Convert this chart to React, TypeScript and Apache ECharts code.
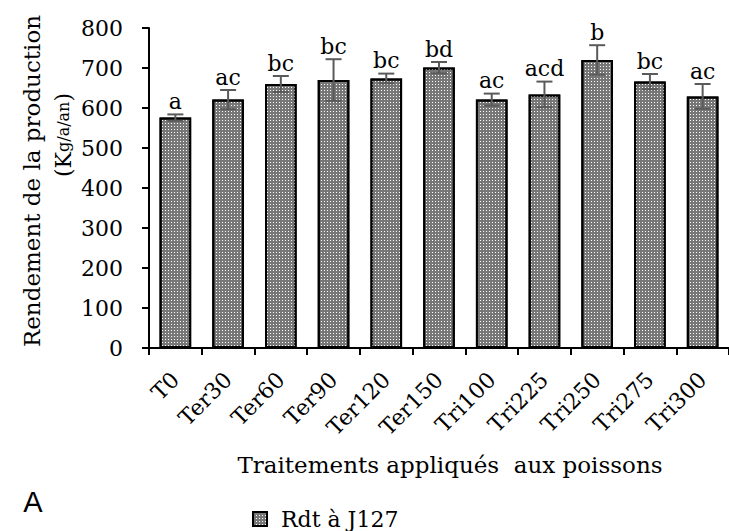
import React, { useEffect, useRef } from "react";
import * as echarts from "echarts";

const categories = ["T0", "Ter30", "Ter60", "Ter90", "Ter120", "Ter150", "Tri100", "Tri225", "Tri250", "Tri275", "Tri300"];
const means = [576, 621, 660, 670, 674, 701, 621, 634, 720, 666, 629];
const errors = [8, 24, 20, 52, 12, 14, 15, 32, 37, 19, 31];
const letters = ["a", "ac", "bc", "bc", "bc", "bd", "ac", "acd", "b", "bc", "ac"];
const seriesName = "Rdt à J127";
const yAxisTitle = "Rendement de la production";
const xAxisTitle = "Traitements appliqués  aux poissons";
const panelLabel = "A";

const SERIF = "'DejaVu Serif', 'Liberation Serif', serif";

export default function App() {
  const ref = useRef<HTMLDivElement>(null);
  useEffect(() => {
    if (!ref.current) return;
    const chart = echarts.init(ref.current, null, { renderer: "svg" });
    const option: any = {
      animation: false,
      backgroundColor: "#ffffff",
      grid: { left: 149, top: 28, width: 588, height: 320 },
      legend: {
        data: [{ name: seriesName, icon: "rect" }],
        left: 247,
        top: 503,
        itemWidth: 14,
        itemHeight: 14,
        textStyle: { fontFamily: SERIF, fontSize: 22, color: "#000", padding: [0, 0, 0, 9] },
      },
      xAxis: {
        type: "category",
        data: categories,
        boundaryGap: true,
        axisLine: { lineStyle: { color: "#000", width: 2 } },
        axisTick: { show: true, inside: false, length: 7, lineStyle: { color: "#000", width: 2 } },
        axisLabel: { rotate: 45, margin: 28, fontFamily: SERIF, fontSize: 22, color: "#000", interval: 0 },
      },
      yAxis: {
        type: "value",
        min: 0,
        max: 800,
        interval: 100,
        splitLine: { show: false },
        axisLine: { show: true, lineStyle: { color: "#000", width: 2 } },
        axisTick: { show: true, inside: false, length: 7, lineStyle: { color: "#000", width: 2 } },
        axisLabel: { margin: 26, fontFamily: SERIF, fontSize: 22, color: "#000" },
      },
      series: [
        {
          name: seriesName,
          type: "bar",
          data: means,
          barCategoryGap: "40%",
          itemStyle: {
            color: "#777777",
            borderColor: "#000",
            borderWidth: 2,
            decal: {
              symbol: "rect",
              symbolSize: 1,
              color: "#ffffff",
              dashArrayX: [1, 2],
              dashArrayY: [1, 2],
              rotation: 0,
            },
          },
        },
        {
          name: "err",
          type: "custom",
          z: 5,
          data: means.map((m, i) => [i, m, errors[i]]),
          encode: { x: 0, y: 1 },
          renderItem: (params: any, api: any) => {
            const i = params.dataIndex;
            const x = api.value(0);
            const m = api.value(1);
            const e = api.value(2);
            const t = api.coord([x, m + e]);
            const b = api.coord([x, m - e]);
            const hw = 8;
            const ls = { stroke: "#5a5a5a", lineWidth: 2 };
            return {
              type: "group",
              children: [
                { type: "line", shape: { x1: t[0], y1: t[1], x2: b[0], y2: b[1] }, style: ls },
                { type: "line", shape: { x1: t[0] - hw, y1: t[1], x2: t[0] + hw, y2: t[1] }, style: ls },
                { type: "line", shape: { x1: b[0] - hw, y1: b[1], x2: b[0] + hw, y2: b[1] }, style: ls },
                {
                  type: "text",
                  x: t[0],
                  y: t[1] - 2,
                  style: {
                    text: letters[i],
                    fontFamily: SERIF,
                    fontSize: 22,
                    fill: "#000",
                    textAlign: "center",
                    textVerticalAlign: "bottom",
                  },
                },
              ],
            };
          },
        },
      ],
      graphic: [
        {
          type: "text",
          x: 32,
          y: 181,
          rotation: Math.PI / 2,
          style: {
            text: yAxisTitle,
            fontFamily: SERIF,
            fontSize: 23,
            fill: "#000",
            textAlign: "center",
            textVerticalAlign: "middle",
          },
        },
        {
          type: "text",
          x: 63,
          y: 135,
          rotation: Math.PI / 2,
          style: {
            text: "{n|(K}{s|g/a/an}{n|)}",
            textAlign: "center",
            textVerticalAlign: "middle",
            rich: {
              n: { fontFamily: SERIF, fontSize: 22, fill: "#000" },
              s: { fontFamily: SERIF, fontSize: 16, fill: "#000" },
            },
          },
        },
        {
          type: "text",
          x: 450,
          y: 465,
          style: {
            text: xAxisTitle,
            fontFamily: SERIF,
            fontSize: 23,
            fill: "#000",
            textAlign: "center",
            textVerticalAlign: "middle",
          },
        },
        {
          type: "text",
          x: 33,
          y: 502,
          style: {
            text: panelLabel,
            fontFamily: "'Liberation Sans', Arial, sans-serif",
            fontSize: 29,
            fill: "#000",
            textAlign: "center",
            textVerticalAlign: "middle",
          },
        },
      ],
    };
    chart.setOption(option);
    return () => chart.dispose();
  }, []);
  return <div ref={ref} style={{ position: "fixed", left: 0, top: 0, width: 729, height: 531 }} />;
}
